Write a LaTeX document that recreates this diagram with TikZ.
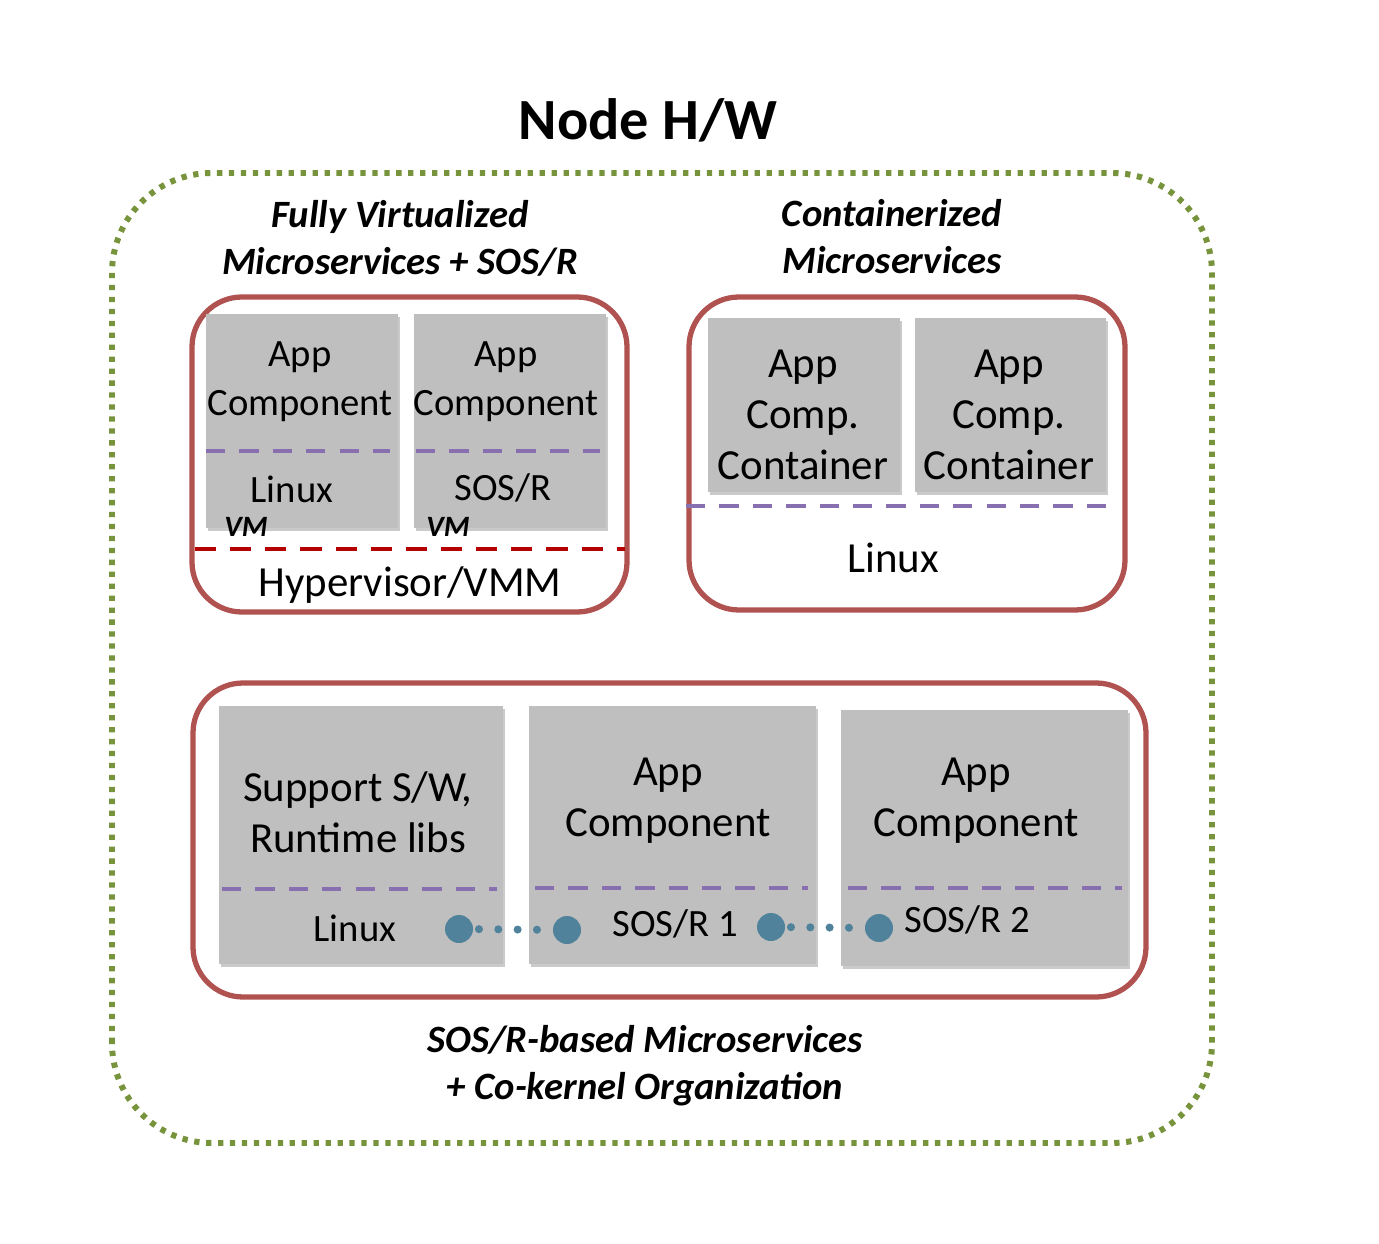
\documentclass[tikz,border=0pt]{standalone}
\usepackage{fontspec}
\setmainfont{Carlito}
\usepackage{tikz}
\usetikzlibrary{positioning, shadows}

\definecolor{hwgreen}{RGB}{119,147,60}
\definecolor{boxred}{RGB}{176,82,80}
\definecolor{vmmred}{RGB}{180,0,0}
\definecolor{layergray}{RGB}{191,191,191}
\definecolor{sepviolet}{RGB}{136,112,176}
\definecolor{linkteal}{RGB}{80,131,155}

\tikzset{
  hwbox/.style={draw=hwgreen, line width=1.7pt, dash pattern=on 1.5pt off 1.9pt, rounded corners=1cm},
  groupbox/.style={draw=boxred, line width=1.5pt, rounded corners=0.5cm},
  layer/.style={fill=layergray, draw=none, inner sep=0pt,
    drop shadow={shadow xshift=0.6pt, shadow yshift=-0.9pt, opacity=0.35, fill=black!60}},
  sepline/.style={draw=sepviolet, line width=1.1pt, dash pattern=on 5.5pt off 4pt},
  vmmline/.style={draw=vmmred, line width=1.1pt, dash pattern=on 6pt off 4pt},
  grouptitle/.style={font=\fontsize{11}{13.4}\selectfont\bfseries\itshape, align=center},
  smalltxt/.style={font=\fontsize{11}{13.9}\selectfont, align=center},
  bigtxt/.style={font=\fontsize{12.2}{14.6}\selectfont, align=center},
  vmtag/.style={font=\fontsize{8.4}{9}\selectfont\bfseries\itshape, inner sep=1pt},
  kernel/.style={circle, fill=linkteal, inner sep=0pt, minimum size=0.28cm},
  colink/.style={draw=linkteal, line width=2.3pt, line cap=round, dash pattern=on 0pt off 5.5pt, shorten <=1.5pt, shorten >=2.8pt}
}

\begin{document}
\begin{tikzpicture}
\useasboundingbox (0,0) rectangle (13.79,12.43);

% node hardware
\node[font=\fontsize{16.6}{20}\selectfont\bfseries] (title) at (6.48,11.23) {Node H/W};
\draw[hwbox] (1.12,1.00) rectangle (12.12,10.70);

% fully virtualized
\node[grouptitle] (fvtitle) at (4.00,10.05) {Fully Virtualized\\Microservices + SOS/R};
\draw[groupbox] (1.92,6.31) rectangle (6.27,9.46);
\node[layer, minimum width=1.92cm, minimum height=2.14cm] (vmA) at (3.02,8.22) {};
\node[layer, minimum width=1.92cm, minimum height=2.14cm] (vmB) at (5.10,8.22) {};
\draw[sepline] (2.06,7.92) -- (3.90,7.92);
\draw[sepline] (4.16,7.92) -- (6.00,7.92);
\node[smalltxt] (vmAapp) at (3.00,8.61) {App\\Component};
\node[smalltxt] (vmBapp) at (5.06,8.61) {App\\Component};
\node[smalltxt] (vmAos) at (2.92,7.54) {Linux};
\node[smalltxt] (vmBos) at (5.03,7.55) {SOS/R};
\node[vmtag] (vmAtag) at (2.46,7.16) {VM};
\node[vmtag] (vmBtag) at (4.48,7.16) {VM};
\draw[vmmline] (1.95,6.94) -- (6.25,6.94);
\node[bigtxt] (vmm) at (4.10,6.58) {Hypervisor/VMM};

% containerized
\node[grouptitle] (cttitle) at (8.92,10.06) {Containerized\\Microservices};
\draw[groupbox] (6.89,6.33) rectangle (11.25,9.46);
\node[layer, minimum width=1.92cm, minimum height=1.74cm] (ctA) at (8.04,8.38) {};
\node[layer, minimum width=1.91cm, minimum height=1.74cm] (ctB) at (10.105,8.38) {};
\node[bigtxt] (ctAtxt) at (8.03,8.28) {App\\Comp.\\Container};
\node[bigtxt] (ctBtxt) at (10.09,8.28) {App\\Comp.\\Container};
\draw[sepline] (6.86,7.37) -- (11.13,7.37);
\node[bigtxt] (ctos) at (8.93,6.85) {Linux};

% co-kernel organization
\draw[groupbox] (1.93,2.46) rectangle (11.46,5.60);
\node[layer, minimum width=2.84cm, minimum height=2.58cm] (sup) at (3.61,4.08) {};
\node[layer, minimum width=2.87cm, minimum height=2.58cm] (appA) at (6.725,4.08) {};
\node[layer, minimum width=2.87cm, minimum height=2.56cm] (appB) at (9.845,4.05) {};
\draw[sepline] (2.22,3.54) -- (4.97,3.54);
\draw[sepline] (5.35,3.55) -- (8.08,3.55);
\draw[sepline] (8.48,3.55) -- (11.22,3.55);
\node[bigtxt] (suptxt) at (3.58,4.31) {Support S/W,\\Runtime libs};
\node[bigtxt] (appAtxt) at (6.68,4.42) {App\\Component};
\node[bigtxt] (appBtxt) at (9.76,4.42) {App\\Component};
\node[smalltxt] (supos) at (3.55,3.15) {Linux};
\node[smalltxt] (appAos) at (6.75,3.19) {SOS/R 1};
\node[smalltxt] (appBos) at (9.67,3.23) {SOS/R 2};

% kernel links
\node[kernel] (k1) at (4.59,3.14) {};
\node[kernel] (k2) at (5.67,3.13) {};
\node[kernel] (k3) at (7.71,3.16) {};
\node[kernel] (k4) at (8.79,3.15) {};
\draw[colink] (k1) -- (k2);
\draw[colink] (k3) -- (k4);

\node[grouptitle] (cktitle) at (6.45,1.77) {SOS/R-based Microservices\\+ Co-kernel Organization};
\end{tikzpicture}
\end{document}
